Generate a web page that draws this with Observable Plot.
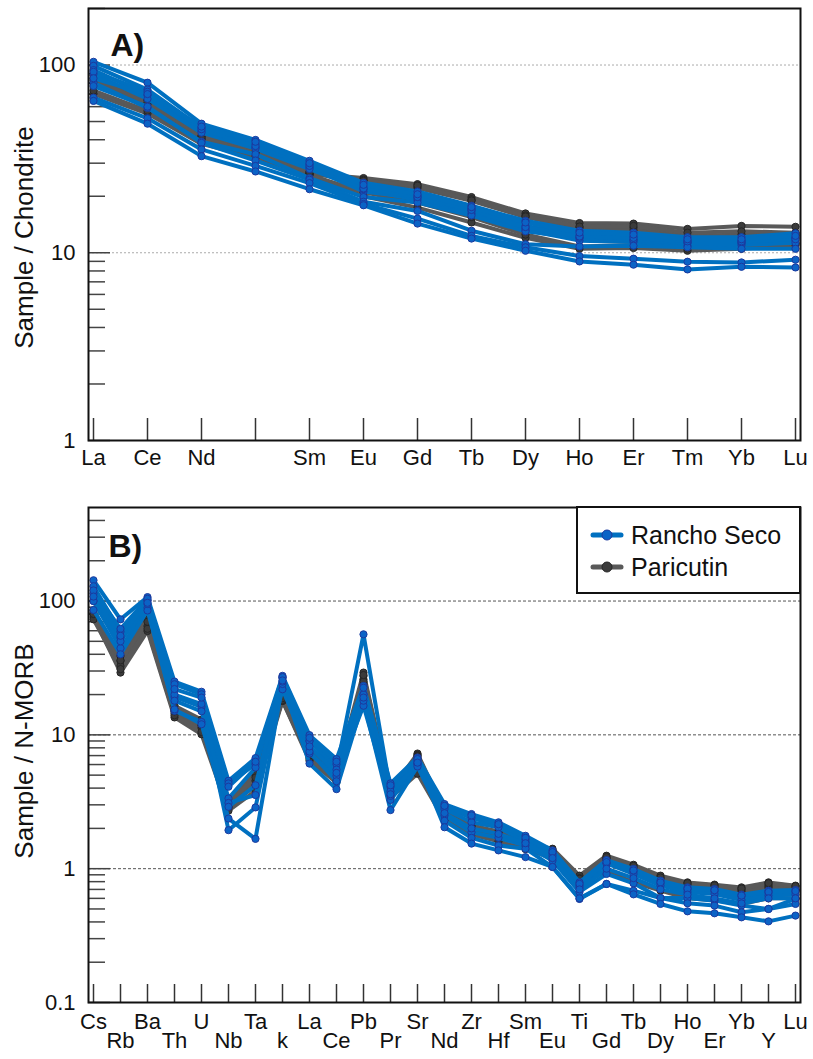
<!DOCTYPE html>
<html>
<head>
<meta charset="utf-8">
<script src="https://cdn.jsdelivr.net/npm/d3@7"></script>
<script src="https://cdn.jsdelivr.net/npm/@observablehq/plot@0.6"></script>
<style>
  body { margin: 0; background: #fff; }
  #chart { position: relative; width: 813px; height: 1059px; font-family: "Liberation Sans", Arial, sans-serif; }
  #chart svg { display: block; }
</style>
</head>
<body>
<div id="chart"></div>
<script>
// ---- Panel A: chondrite-normalised REE ----
const reeElements = ["La", "Ce", "Nd", "Pm", "Sm", "Eu", "Gd", "Tb", "Dy", "Ho", "Er", "Tm", "Yb", "Lu"];
const reeTickLabels = ["La", "Ce", "Nd", "", "Sm", "Eu", "Gd", "Tb", "Dy", "Ho", "Er", "Tm", "Yb", "Lu"];

const ranchoSecoREE = [
  [104, 80.5, 48.7, 39.9, 30.9, 23.6, 21.2, 17.8, 14.8, 13.1, 12.8, 12.1, 12.1, 12.7],
  [99, 74, 46.4, 37.9, 29.6, 22.4, 20.1, 17.2, 13.9, 12.4, 12.2, 11.6, 11.6, 12.0],
  [94, 69, 44.5, 36.5, 28.5, 21.2, 19.6, 16.7, 13.5, 12.0, 11.7, 11.3, 11.3, 11.6],
  [89.6, 66, 43.6, 35.9, 27.9, 21.8, 19.1, 16.2, 13.2, 11.6, 11.4, 10.9, 11.0, 11.3],
  [80.5, 59.1, 39.1, 33.5, 25.0, 19.8, 18.5, 15.8, 13.0, 12.0, 11.7, 11.3, 11.3, 12.0],
  [77.3, 60, 38.5, 31, 24.5, 18.7, 16.7, 13.1, 11.1, 10.8, 10.9, 10.7, 10.5, 10.5],
  [92, 72, 45.5, 37, 29, 22, 19.8, 16.9, 13.7, 12.2, 12.0, 11.5, 11.5, 11.8],
  [67, 52, 35.5, 29, 23.5, 18.2, 15.2, 12.3, 10.7, 9.6, 9.3, 8.96, 8.88, 9.18],
  [64.4, 48.7, 32.7, 27.1, 21.8, 17.9, 14.3, 11.9, 10.25, 8.99, 8.64, 8.15, 8.42, 8.35],
  [85, 70, 47, 39, 30, 23, 20.5, 17.5, 14.5, 12.8, 12.5, 11.8, 11.8, 12.3]
];

const paricutinREE = [
  [88, 65.7, 41.6, 34.2, 26.4, 25.0, 23.2, 19.8, 16.2, 14.4, 14.3, 13.4, 13.9, 13.75],
  [85, 65, 42, 34.5, 27, 24.5, 22.1, 18.9, 15.5, 13.6, 13.6, 12.3, 12.5, 12.5],
  [80, 62, 40.5, 33.5, 26.4, 24, 22.5, 19.3, 15.8, 13.2, 13.2, 12.0, 12.2, 12.3],
  [70.3, 55.1, 38, 32, 26, 20, 17.4, 14.5, 12.0, 10.5, 10.6, 10.25, 10.5, 11.0],
  [73, 57, 40, 33, 26, 21, 18.5, 15.5, 12.5, 10.8, 11.0, 10.5, 10.7, 11.2],
  [83, 63, 41, 34, 26.8, 24.2, 22.8, 19.0, 15.6, 13.8, 13.9, 12.8, 13.0, 12.8]
];

// ---- Panel B: N-MORB-normalised multi-element ----
const spiderElements = ["Cs", "Rb", "Ba", "Th", "U", "Nb", "Ta", "K", "La", "Ce", "Pb", "Pr", "Sr", "Nd",
  "Zr", "Hf", "Sm", "Eu", "Ti", "Gd", "Tb", "Dy", "Ho", "Er", "Yb", "Y", "Lu"];
const spiderTickLabels = ["Cs", "Rb", "Ba", "Th", "U", "Nb", "Ta", "k", "La", "Ce", "Pb", "Pr", "Sr", "Nd",
  "Zr", "Hf", "Sm", "Eu", "Ti", "Gd", "Tb", "Dy", "Ho", "Er", "Yb", "Y", "Lu"];

const ranchoSecoSpider = [
  [143, 73, 107, 25, 21, 4.54, 6.7, 27.6, 9.95, 6.59, 23.2, 4.34, 6.77, 3.04, 2.56, 2.22, 1.76, 1.37, 0.79, 1.16, 0.995, 0.814, 0.725, 0.705, 0.64, 0.685, 0.693],
  [129, 59, 101, 23.9, 20.1, 4.34, 6.04, 26.5, 9.0, 6.04, 20.1, 4.09, 6.5, 2.9, 2.4, 2.1, 1.65, 1.3, 0.75, 1.1, 0.95, 0.78, 0.7, 0.68, 0.62, 0.66, 0.67],
  [114, 53.2, 101, 19.2, 16.2, 3.35, 5.7, 27, 9.0, 5.5, 56.4, 3.78, 6.1, 2.79, 2.22, 2.04, 1.58, 1.25, 0.725, 1.095, 0.913, 0.747, 0.669, 0.647, 0.584, 0.629, 0.64],
  [100, 44.4, 89, 15.1, 12.5, 3.1, 3.55, 21.9, 7.25, 4.94, 16.5, 3.26, 6.0, 2.5, 1.87, 1.7, 1.49, 1.15, 0.67, 0.913, 0.777, 0.604, 0.604, 0.577, 0.53, 0.5, 0.594],
  [85.7, 40, 85, 15.5, 12, 2.37, 1.67, 24, 6.1, 3.93, 18, 2.74, 5.8, 2.28, 1.7, 1.49, 1.41, 1.03, 0.594, 0.769, 0.685, 0.604, 0.551, 0.53, 0.472, 0.5, 0.545],
  [100, 50, 95, 20, 17, 1.94, 2.87, 25, 7.5, 4.5, 20, 3.5, 6.3, 2.04, 1.54, 1.37, 1.22, 1.03, 0.6, 0.769, 0.643, 0.545, 0.48, 0.464, 0.433, 0.404, 0.446],
  [120, 62, 104, 22, 19, 4.1, 6.3, 27, 9.5, 6.3, 22.5, 4.2, 6.6, 2.95, 2.5, 2.15, 1.7, 1.33, 0.77, 1.12, 0.97, 0.79, 0.71, 0.69, 0.63, 0.67, 0.68],
  [108, 55, 97, 18, 15, 2.9, 4.2, 25.5, 8.2, 5.2, 19, 3.6, 6.2, 2.6, 2.0, 1.82, 1.55, 1.2, 0.7, 1.0, 0.85, 0.7, 0.64, 0.6, 0.55, 0.6, 0.6]
];

const paricutinSpider = [
  [85, 38.9, 77, 16.5, 13, 3.22, 5.4, 19, 7.5, 5.3, 29.2, 3.8, 7.25, 2.7, 2.1, 1.9, 1.55, 1.41, 0.887, 1.25, 1.07, 0.887, 0.79, 0.76, 0.725, 0.79, 0.747],
  [82, 35.7, 72, 15.5, 12, 3.0, 5.0, 18.5, 7.2, 5.0, 27.5, 3.6, 7.1, 2.6, 2.05, 1.85, 1.5, 1.38, 0.85, 1.2, 1.03, 0.85, 0.76, 0.73, 0.7, 0.76, 0.72],
  [79, 32.7, 65, 14.5, 11.3, 2.85, 4.54, 18, 6.77, 4.7, 26, 3.5, 7.0, 2.56, 2.0, 1.82, 1.49, 1.35, 0.82, 1.18, 1.0, 0.82, 0.74, 0.72, 0.68, 0.74, 0.7],
  [76, 29.2, 59.7, 13.5, 10.1, 2.71, 3.82, 17.9, 6.4, 4.41, 24, 3.3, 6.6, 2.45, 1.95, 1.78, 1.45, 1.3, 0.8, 1.15, 0.97, 0.8, 0.72, 0.7, 0.66, 0.72, 0.69],
  [73, 31, 62, 14, 10.5, 2.9, 4.2, 18.2, 6.6, 4.6, 25, 3.4, 5.12, 2.3, 1.8, 1.6, 1.4, 1.2, 0.75, 0.966, 0.79, 0.685, 0.6, 0.58, 0.545, 0.6, 0.6],
  [80, 36, 70, 15, 11.8, 3.1, 4.8, 18.8, 7.0, 4.9, 28, 3.7, 6.9, 2.5, 1.95, 1.75, 1.47, 1.33, 0.84, 1.22, 1.05, 0.86, 0.78, 0.75, 0.71, 0.78, 0.74]
];

// ---- Axis ticks ----
const majorTicksA = [1, 10, 100];
const minorTicksA = [2, 3, 4, 5, 6, 7, 8, 9, 20, 30, 40, 50, 60, 70, 80, 90, 200];
const majorTicksB = [0.1, 1, 10, 100];
const minorTicksB = [0.2, 0.3, 0.4, 0.5, 0.6, 0.7, 0.8, 0.9, 2, 3, 4, 5, 6, 7, 8, 9,
  20, 30, 40, 50, 60, 70, 80, 90, 200, 300, 400];

// ---- Series styling ----
const groups = ["Rancho Seco", "Paricutin"];
const lineColors = ["#0070c0", "#595959"];
const dotFills = ["#0b63c6", "#3b3b3b"];
const dotStrokes = ["#1c3a9e", "#262626"];

const FONT = "Liberation Sans, Arial, sans-serif";

function toRows(samples, elements, group) {
  return samples.flatMap((vals, s) =>
    vals.map((v, i) => ({ group, sample: `${group}-${s}`, element: elements[i], value: v })));
}

function seriesMarks(rows, gi) {
  return [
    Plot.line(rows, { x: "element", y: "value", z: "sample", stroke: lineColors[gi], strokeWidth: 4, strokeLinejoin: "round", strokeLinecap: "round" }),
    Plot.dot(rows, { x: "element", y: "value", r: 3.6, fill: dotFills[gi], stroke: dotStrokes[gi], strokeWidth: 1 })
  ];
}

function yAxisMarks(major, minor, gridStroke, gridDash) {
  return [
    Plot.gridY(major.filter(d => d !== major[0]), { stroke: gridStroke, strokeOpacity: 1, strokeDasharray: gridDash, strokeWidth: 1 }),
    Plot.axisY(minor, { tickSize: -17, stroke: "#444", strokeWidth: 1.5, tickFormat: () => "", label: null }),
    Plot.axisY(major, { tickSize: -22, stroke: "#444", strokeWidth: 1.5, tickFormat: () => "", label: null }),
    Plot.axisY(major, { tickSize: 0, tickPadding: 13, fontSize: 22, fill: "#111", tickFormat: d => String(d), label: null })
  ];
}

const chart = document.getElementById("chart");

// Panel A: Paricutin series first, Rancho Seco drawn over it
const rsA = toRows(ranchoSecoREE, reeElements, groups[0]);
const paA = toRows(paricutinREE, reeElements, groups[1]);
const plotA = Plot.plot({
  width: 813,
  height: 480,
  marginTop: 8,
  marginBottom: 40,
  marginLeft: 88,
  marginRight: 13,
  style: { fontFamily: FONT, background: "#fff" },
  x: { type: "point", domain: reeElements, padding: 0 },
  y: { type: "log", domain: [1, 200] },
  marks: [
    ...yAxisMarks(majorTicksA, minorTicksA, "#aaa", "2,2"),
    Plot.axisX({ tickSize: -22, tickPadding: 31, stroke: "#333", strokeWidth: 1.5, fontSize: 22, fill: "#111",
      tickFormat: d => reeTickLabels[reeElements.indexOf(d)], label: null }),
    ...seriesMarks(paA, 1),
    ...seriesMarks(rsA, 0),
    Plot.frame({ stroke: "#111", strokeWidth: 2 }),
    Plot.text(["A)"], { frameAnchor: "top-left", dx: 22, dy: 25, fontSize: 32, fontWeight: "bold", textAnchor: "start", fill: "#111" }),
    Plot.text(["Sample / Chondrite"], { frameAnchor: "left", dx: -64, dy: 13, rotate: -90, textAnchor: "middle", fontSize: 26, fill: "#111" })
  ]
});
chart.appendChild(plotA);

// Panel B
const rsB = toRows(ranchoSecoSpider, spiderElements, groups[0]);
const paB = toRows(paricutinSpider, spiderElements, groups[1]);
const spiderLabel = d => spiderTickLabels[spiderElements.indexOf(d)];
const plotB = Plot.plot({
  width: 813,
  height: 579,
  marginTop: 27,
  marginBottom: 57,
  marginLeft: 88,
  marginRight: 13,
  style: { fontFamily: FONT, background: "#fff" },
  x: { type: "point", domain: spiderElements, padding: 0 },
  y: { type: "log", domain: [0.1, 500] },
  marks: [
    ...yAxisMarks(majorTicksB, minorTicksB, "#555", "3,2"),
    Plot.axisX(spiderElements.filter((d, i) => i % 2 === 0), { tickSize: -18, tickPadding: 29, stroke: "#333", strokeWidth: 1.5,
      fontSize: 22, fill: "#111", tickFormat: spiderLabel, label: null }),
    Plot.axisX(spiderElements.filter((d, i) => i % 2 === 1), { tickSize: -18, tickPadding: 48, stroke: "#333", strokeWidth: 1.5,
      fontSize: 22, fill: "#111", tickFormat: spiderLabel, label: null }),
    ...seriesMarks(paB, 1),
    ...seriesMarks(rsB, 0),
    Plot.frame({ stroke: "#111", strokeWidth: 2 }),
    Plot.text(["B)"], { frameAnchor: "top-left", dx: 20, dy: 27, fontSize: 32, fontWeight: "bold", textAnchor: "start", fill: "#111" }),
    Plot.text(["Sample / N-MORB"], { frameAnchor: "left", dx: -64, dy: -4, rotate: -90, textAnchor: "middle", fontSize: 26, fill: "#111" })
  ]
});
chart.appendChild(plotB);

// Legend box in the upper-right corner of panel B
const legend = d3.select(chart).append("svg")
  .attr("width", 225).attr("height", 88)
  .style("position", "absolute").style("left", "576px").style("top", "506px")
  .style("font-family", FONT);
legend.append("rect").attr("x", 1).attr("y", 1).attr("width", 223).attr("height", 86)
  .attr("fill", "#fff").attr("stroke", "#111").attr("stroke-width", 2);
groups.forEach((g, i) => {
  const y = 29 + i * 32;
  legend.append("line").attr("x1", 17).attr("x2", 45).attr("y1", y).attr("y2", y)
    .attr("stroke", lineColors[i]).attr("stroke-width", 5).attr("stroke-linecap", "round");
  legend.append("circle").attr("cx", 31).attr("cy", y).attr("r", 5)
    .attr("fill", dotFills[i]).attr("stroke", dotStrokes[i]).attr("stroke-width", 1);
  legend.append("text").attr("x", 55).attr("y", y).attr("dy", "0.35em")
    .attr("font-size", 25).attr("fill", "#111").text(g);
});
</script>
</body>
</html>
